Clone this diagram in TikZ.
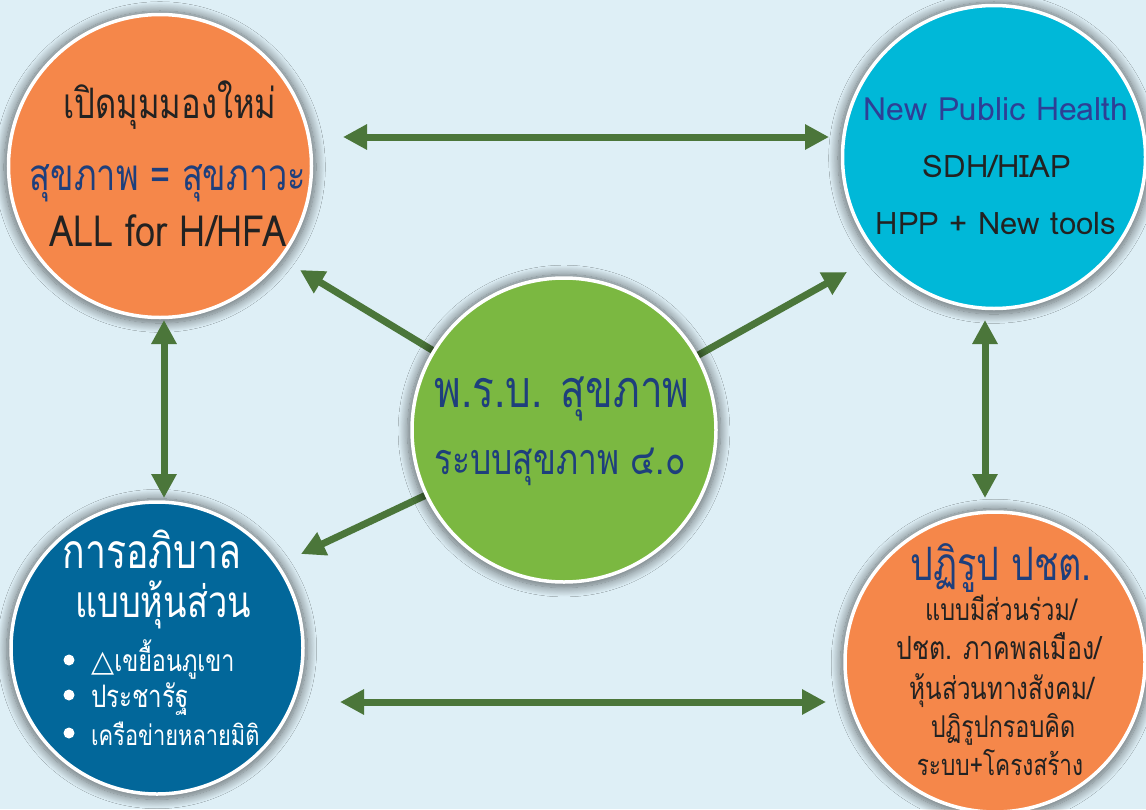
\documentclass[tikz,border=0pt]{standalone}
\usepackage{fontspec}
\usetikzlibrary{arrows.meta,shadows.blur}
\newfontfamily\thai[Script=Thai,FakeStretch=0.78]{Loma}
\newfontfamily\latin[FakeStretch=0.84]{Loma}
\newfontfamily\latinw{Loma}
\newfontfamily\dejavu{DejaVu Sans}
\definecolor{bgblue}{HTML}{DEEFF6}
\definecolor{corange}{HTML}{F5874A}
\definecolor{ccyan}{HTML}{00B8D8}
\definecolor{cblue}{HTML}{02679A}
\definecolor{cgreen}{HTML}{7BB841}
\definecolor{arrowgreen}{HTML}{4B763A}
\definecolor{navy}{HTML}{1E3F7C}
\definecolor{npblue}{HTML}{2E3F95}
\definecolor{darktext}{HTML}{222222}
\tikzset{
  bubble/.style={circle, draw=white, line width=3.5pt, minimum size=#1,
    blur shadow={shadow xshift=0pt, shadow yshift=-1pt, shadow scale=1.03,
      shadow blur radius=9pt, shadow blur steps=14, shadow opacity=55}},
  link/.style={arrowgreen, line width=7pt,
    -{Triangle[length=24pt,width=24pt]}},
  dlink/.style={arrowgreen, line width=7pt,
    {Triangle[length=24pt,width=24pt]}-{Triangle[length=24pt,width=24pt]}},
  txt/.style={inner sep=0pt, anchor=base, font=\thai\fontsize{#1}{#1}\selectfont},
  ltxt/.style={inner sep=0pt, anchor=base, font=\latinw\fontsize{#1}{#1}\selectfont},
  dot/.style={circle, fill=white, inner sep=0pt, minimum size=11pt},
}
\begin{document}
\begin{tikzpicture}[x=1pt,y=-1pt]
\useasboundingbox (0,0) rectangle (1146,809);
\fill[bgblue] (0,0) rectangle (1146,809);

% circles
\node[bubble=303pt, fill=corange] (tl) at (160,166) {};
\node[bubble=303pt, fill=ccyan] (tr) at (994,157) {};
\node[bubble=292pt, fill=cblue] (bl) at (157,648) {};
\node[bubble=300pt, fill=corange] (br) at (995,662) {};

% arrow end coordinates
\coordinate (gc) at (564,430);
\coordinate (a1s) at (343,137); \coordinate (a1e) at (829,137);
\coordinate (a2s) at (340,702); \coordinate (a2e) at (826,702);
\coordinate (a3s) at (164,320); \coordinate (a3e) at (164,498);
\coordinate (a4s) at (985,320); \coordinate (a4e) at (985,498);
\coordinate (tipTL) at (300,270);
\coordinate (tipTR) at (847,272);
\coordinate (tipBL) at (301,554);

\draw[link] (gc) -- (tipTL);
\draw[link] (gc) -- (tipTR);
\draw[link] (gc) -- (tipBL);

\node[bubble=304pt, fill=cgreen] (g) at (gc) {};

\draw[dlink] (a1s) -- (a1e);
\draw[dlink] (a2s) -- (a2e);
\draw[dlink] (a3s) -- (a3e);
\draw[dlink] (a4s) -- (a4e);

% top-left texts
\node[txt=42, text=darktext] (tl1) at (170,118) {เปิดมุมมองใหม่};
\node[txt=44, text=navy] (tl2) at (168,190) {สุขภาพ = สุขภาวะ};
\node[inner sep=0pt, anchor=base, font=\latin\fontsize{43}{43}\selectfont, text=darktext] (tl3) at (168,246) {ALL for H/HFA};

% top-right texts
\node[ltxt=32, text=npblue] (tr1) at (996,120) {New Public Health};
\node[ltxt=31, text=darktext] (tr2) at (997,177) {SDH/HIAP};
\node[ltxt=31, text=darktext] (tr3) at (996,234) {HPP + New tools};

% centre texts
\node[txt=52, text=navy] (g1) at (562,407) {พ.ร.บ. สุขภาพ};
\node[txt=43, text=navy] (g3) at (560,474) {ระบบสุขภาพ ๔.๐};

% bottom-left texts
\node[txt=48, text=white] (bl1) at (152,568) {การอภิบาล};
\node[txt=44, text=white] (bl2) at (163,617) {แบบหุ้นส่วน};
\node[dot] (d1) at (69,660) {};
\node[dot] (d2) at (69,695) {};
\node[dot] (d3) at (69,733) {};
\node[txt=30, text=white, anchor=base west] (bl3) at (91,671) {{\dejavu △}เขยื้อนภูเขา};
\node[txt=31, text=white, anchor=base west] (bl4) at (91,707) {ประชารัฐ};
\node[txt=28, text=white, anchor=base west] (bl5) at (91,745) {เครือข่ายหลายมิติ};

% bottom-right texts
\node[txt=46, text=navy] (br1) at (1001,580) {ปฏิรูป ปชต.};
\node[txt=30, text=darktext] (br2) at (1001,620) {แบบมีส่วนร่วม/};
\node[txt=32, text=darktext] (br3) at (999,659) {ปชต. ภาคพลเมือง/};
\node[txt=31, text=darktext] (br4) at (1002,699) {หุ้นส่วนทางสังคม/};
\node[txt=30, text=darktext] (br5) at (1003,737) {ปฏิรูปกรอบคิด};
\node[txt=29, text=darktext] (br6) at (1000,775) {ระบบ+โครงสร้าง};
\end{tikzpicture}
\end{document}
